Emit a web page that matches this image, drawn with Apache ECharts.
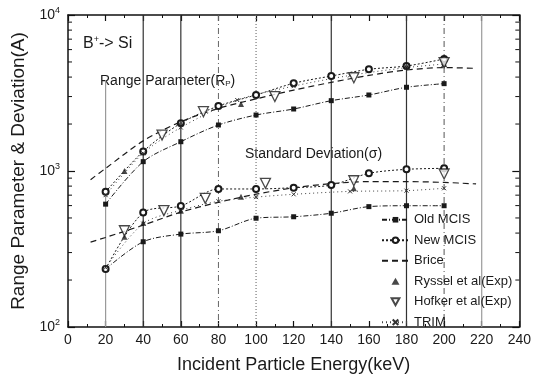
<!DOCTYPE html>
<html>
<head>
<meta charset="utf-8">
<script src="https://cdn.jsdelivr.net/npm/echarts@6/dist/echarts.min.js"></script>
<style>
html,body{margin:0;padding:0;background:#fff;}
#chart{width:534px;height:385px;}
</style>
</head>
<body>
<div id="chart"></div>
<script>
// ---------- data ----------
const energies   = [20, 40, 60, 80, 100, 120, 140, 160, 180, 200];
const oldRp      = [613, 1148, 1541, 1972, 2285, 2497, 2824, 3071, 3441, 3630];
const newRp      = [735, 1335, 2025, 2610, 3071, 3650, 4064, 4487, 4710, 5224];
const oldSigma   = [235, 352, 394, 414, 498, 509, 536, 591, 599, 599];
const newSigma   = [235, 541, 597, 767, 767, 782, 813, 966, 1025, 1040];

const briceE     = [12, 20, 40, 60, 80, 100, 120, 140, 160, 180, 200, 217];
const briceRp    = [880, 1040, 1560, 2070, 2520, 2900, 3300, 3700, 4100, 4440, 4600, 4550];
const briceSigma = [350, 375, 450, 545, 630, 710, 780, 830, 855, 855, 845, 826];

const trimRpE    = [20, 40, 60, 90, 120, 150, 180, 200];
const trimRp     = [700, 1300, 1900, 2850, 3500, 4100, 4600, 4850];
const trimSigE   = [20, 40, 60, 80, 100, 120, 150, 180, 200];
const trimSigma  = [240, 460, 560, 640, 680, 709, 740, 748, 775];

const rysselRpE  = [30, 60, 92, 180, 200];
const rysselRp   = [1000, 2030, 2690, 4730, 4850];
const rysselSigE = [30, 40, 60, 92, 152];
const rysselSig  = [379, 466, 557, 685, 775];

const hofkerRpE  = [50, 72, 110, 152, 200];
const hofkerRp   = [1700, 2400, 3000, 3960, 4950];
const hofkerSigE = [30, 51, 73, 105, 152, 200];
const hofkerSig  = [414, 557, 668, 834, 866, 957];

const xTicks     = [0, 240, 20];           // min, max, interval
const yRange     = [100, 10000];
const yMinor     = [200,300,400,500,600,700,800,900,2000,3000,4000,5000,6000,7000,8000,9000];
const guideX     = [20, 40, 60, 80, 100, 140, 180, 200, 220];

// ---------- helpers ----------
const pair = (xs, ys) => xs.map((x, i) => [x, ys[i]]);
const FONT = 'Liberation Sans, Arial, sans-serif';
const INK = '#1a1a1a';

const guideStyles = {
  20: {color:'#9a9a9a', type:'solid', width:1.2},
  40: {color:'#333', type:'solid', width:1.2},
  60: {color:'#333', type:'solid', width:1.2},
  80: {color:'#666', type:[6,3,1,3], width:1},
  100:{color:'#777', type:[1,2], width:1.2},
  140:{color:'#333', type:'solid', width:1.2},
  180:{color:'#333', type:'solid', width:1.2},
  200:{color:'#555', type:[6,3,1,3], width:1},
  220:{color:'#9a9a9a', type:'solid', width:1.2}
};

const oldStyle = {
  type:'line', smooth:0.3, symbol:'rect', symbolSize:5,
  lineStyle:{color:INK, width:1, type:[5,2,1,2]},
  itemStyle:{color:INK}
};
const newStyle = {
  type:'line', smooth:0.3, symbol:'emptyCircle', symbolSize:6,
  lineStyle:{color:INK, width:1, type:[2,2]},
  itemStyle:{color:INK, borderColor:INK, borderWidth:1}
};
const briceStyle = {
  type:'line', smooth:0.3, symbol:'none',
  lineStyle:{color:INK, width:1.2, type:[6,4]},
  itemStyle:{color:INK}
};
const trimStyle = {
  type:'line', smooth:0.3, symbol:'path://M0,0L10,10M10,0L0,10', symbolSize:4,
  lineStyle:{color:'#444', width:1, type:[1,3]},
  itemStyle:{color:'none', borderColor:'#333', borderWidth:1}
};
const rysselStyle = {
  type:'scatter', symbol:'triangle', symbolSize:6,
  itemStyle:{color:INK}
};
const hofkerStyle = {
  type:'scatter', symbol:'triangle', symbolRotate:180, symbolSize:10,
  itemStyle:{color:'#fff', borderColor:INK, borderWidth:1.3}
};

const chart = echarts.init(document.getElementById('chart'), null, {renderer:'canvas'});

const axisCommon = {
  axisLine:{show:true, onZero:false, lineStyle:{color:'#111', width:1.5}},
  splitLine:{show:false}
};

const option = {
  backgroundColor:'#fff',
  animation:false,
  textStyle:{fontFamily:FONT, color:INK},
  grid:{left:68, top:15, right:14, bottom:58, containLabel:false},
  legend:{
    orient:'vertical', left:376, top:207, itemGap:5, itemWidth:27, itemHeight:7,
    symbolKeepAspect:true,
    textStyle:{fontFamily:FONT, fontSize:13, color:INK, lineHeight:15.5},
    data:[
      {name:'Old MCIS'},
      {name:'New MCIS'},
      {name:'Brice', itemStyle:{opacity:0}},
      {name:'Ryssel et al(Exp)', icon:'path://M5,3L9,10L1,10Z'},
      {name:'Hofker et al(Exp)', icon:'path://M0,0L10,0L5,9Z'},
      {name:'TRIM'}
    ]
  },
  xAxis:[{
    type:'value', min:xTicks[0], max:xTicks[1], interval:xTicks[2], position:'bottom',
    name:'Incident Particle Energy(keV)', nameLocation:'middle', nameGap:29,
    nameTextStyle:{fontFamily:FONT, fontSize:18, color:INK},
    axisLabel:{fontFamily:FONT, fontSize:14, color:INK, margin:6},
    axisTick:{show:true, inside:true, length:6, lineStyle:{color:'#111', width:1.2}},
    minorTick:{show:true, splitNumber:2, length:3, lineStyle:{color:'#111', width:1}},
    ...axisCommon
  },{
    type:'value', min:xTicks[0], max:xTicks[1], interval:xTicks[2], position:'top',
    axisLabel:{show:false},
    axisTick:{show:true, inside:true, length:6, lineStyle:{color:'#111', width:1.2}},
    minorTick:{show:true, splitNumber:2, length:3, lineStyle:{color:'#111', width:1}},
    ...axisCommon
  }],
  yAxis:[{
    type:'log', logBase:10, min:yRange[0], max:yRange[1], position:'left',
    name:'Range Parameter & Deviation(A)', nameLocation:'middle', nameGap:37,
    nameTextStyle:{fontFamily:FONT, fontSize:19, color:INK},
    axisLabel:{
      margin:8, fontFamily:FONT, fontSize:14, color:INK,
      formatter:v => '10{s|' + Math.round(Math.log10(v)) + '}',
      rich:{s:{fontSize:9, verticalAlign:'top', padding:[0,0,9,0], fontFamily:FONT, color:INK}}
    },
    axisTick:{show:true, inside:true, length:7, lineStyle:{color:'#111', width:1.2}},
    ...axisCommon
  },{
    type:'log', logBase:10, min:yRange[0], max:yRange[1], position:'right',
    axisLabel:{show:false},
    axisTick:{show:true, inside:true, length:7, lineStyle:{color:'#111', width:1.2}},
    ...axisCommon
  }],
  graphic:[
    {type:'text', left:83, top:35, style:{
      text:'B{s|+}-> Si', font:'16px ' + FONT, fill:INK,
      rich:{s:{fontSize:9, verticalAlign:'top', padding:[0,0,8,0], fill:INK, fontFamily:FONT}}
    }},
    {type:'text', left:100, top:74, style:{
      text:'Range Parameter(R{b|P})', font:'14px ' + FONT, fill:INK,
      rich:{b:{fontSize:8, padding:[6,0,0,0], fill:INK, fontFamily:FONT}}
    }},
    {type:'text', left:245, top:147, style:{
      text:'Standard Deviation(\u03c3)', font:'14px ' + FONT, fill:INK
    }}
  ],
  series:[
    // vertical guide lines + y minor ticks
    {
      type:'custom', silent:true, xAxisIndex:0, yAxisIndex:0, z:1,
      data:guideX.map(x => [x]),
      renderItem:(params, api) => {
        const x = api.value(0);
        const top = api.coord([x, x === 20 ? 3830 : yRange[1]]);
        const bot = api.coord([x, yRange[0]]);
        const st = guideStyles[x];
        return {type:'line', shape:{x1:top[0], y1:top[1], x2:bot[0], y2:bot[1]},
          style:{stroke:st.color, lineWidth:st.width, lineDash:st.type === 'solid' ? null : st.type}};
      }
    },
    {
      type:'custom', silent:true, xAxisIndex:0, yAxisIndex:0, z:5,
      data:yMinor.map(v => [v]),
      renderItem:(params, api) => {
        const v = api.value(0);
        const l = api.coord([xTicks[0], v]);
        const r = api.coord([xTicks[1], v]);
        return {type:'group', children:[
          {type:'line', shape:{x1:l[0], y1:l[1], x2:l[0] + 4, y2:l[1]}, style:{stroke:'#111', lineWidth:1}},
          {type:'line', shape:{x1:r[0], y1:r[1], x2:r[0] - 4, y2:r[1]}, style:{stroke:'#111', lineWidth:1}}
        ]};
      }
    },
    {name:'Old MCIS', ...oldStyle, z:3, data:pair(energies, oldRp)},
    {name:'Old MCIS', ...oldStyle, z:3, data:pair(energies, oldSigma)},
    {name:'New MCIS', ...newStyle, z:3, data:pair(energies, newRp)},
    {name:'New MCIS', ...newStyle, z:3, data:pair(energies, newSigma)},
    {name:'Brice', ...briceStyle, z:3, data:pair(briceE, briceRp)},
    {name:'Brice', ...briceStyle, z:3, data:pair(briceE, briceSigma)},
    {name:'Ryssel et al(Exp)', ...rysselStyle, z:4, data:pair(rysselRpE, rysselRp)},
    {name:'Ryssel et al(Exp)', ...rysselStyle, z:4, data:pair(rysselSigE, rysselSig)},
    {name:'Hofker et al(Exp)', ...hofkerStyle, z:4, data:pair(hofkerRpE, hofkerRp)},
    {name:'Hofker et al(Exp)', ...hofkerStyle, z:4, data:pair(hofkerSigE, hofkerSig)},
    {name:'TRIM', ...trimStyle, z:3, data:pair(trimRpE, trimRp)},
    {name:'TRIM', ...trimStyle, z:3, data:pair(trimSigE, trimSigma)}
  ]
};
chart.setOption(option);
</script>
</body>
</html>
